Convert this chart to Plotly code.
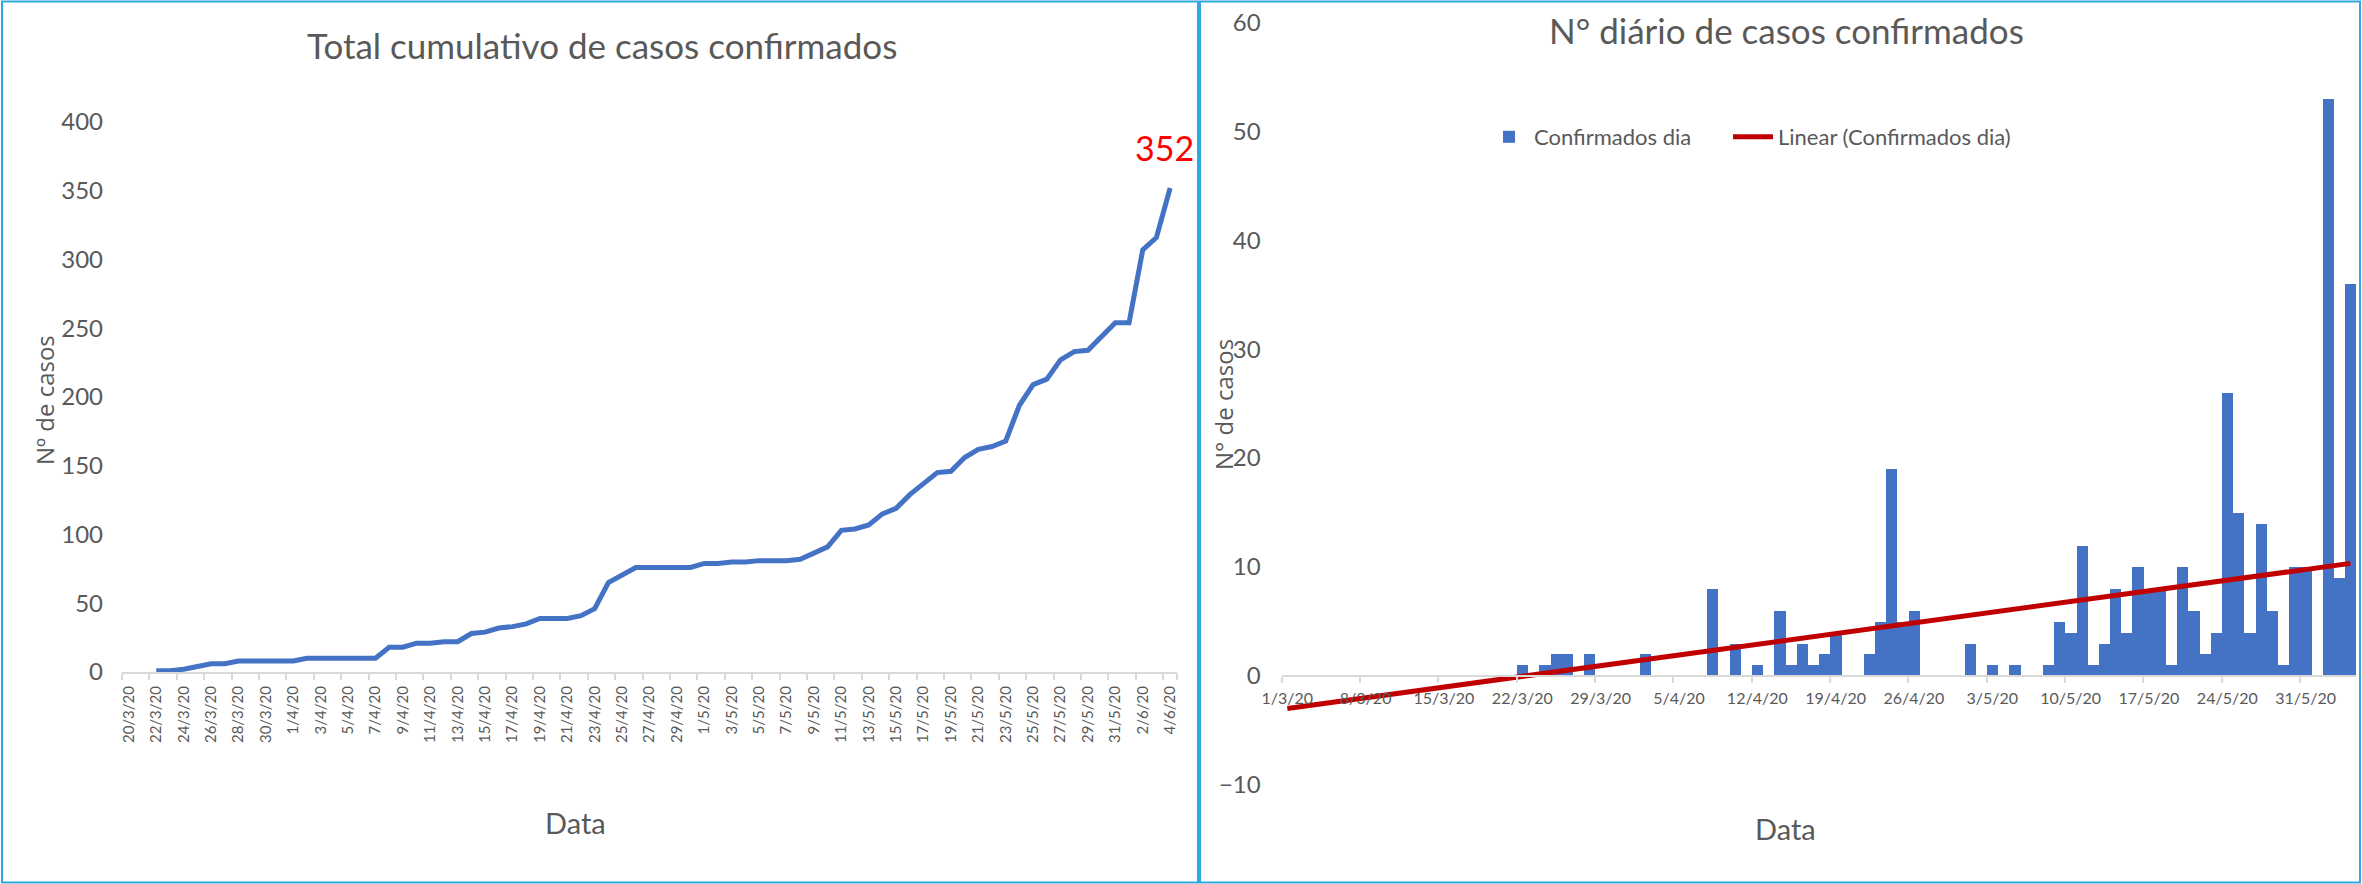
import numpy as np
import pandas as pd
import plotly.graph_objects as go

W, H = 2362, 884

# ---------------- data ----------------
# Left chart: cumulative confirmed cases, categories 20/3/20 .. 4/6/20
cum_dates = pd.date_range("2020-03-20", "2020-06-04", freq="D")
cum_labels = [f"{d.day}/{d.month}/20" for d in cum_dates]
cumulative = [None, None, 1, 1, 2, 4, 6, 6, 8, 8, 8, 8, 8, 10, 10, 10, 10, 10, 10,
              18, 18, 21, 21, 22, 22, 28, 29, 32, 33, 35, 39, 39, 39, 41, 46, 65, 70,
              76, 76, 76, 76, 76, 79, 79, 80, 80, 81, 81, 81, 82, 87, 91, 103, 104,
              107, 115, 119, 129, 137, 145, 146, 156, 162, 164, 168, 194, 209, 213,
              227, 233, 234, 244, 254, 254, 307, 316, 352]
last_label = "352"

# Right chart: daily confirmed cases, 1/3/20 .. 4/6/20
daily_dates = pd.date_range("2020-03-01", "2020-06-04", freq="D")
daily = [0, 0, 0, 0, 0, 0, 0, 0, 0, 0, 0, 0, 0, 0, 0, 0, 0, 0, 0, 0, 0,
         1, 0, 1, 2, 2, 0, 2, 0, 0, 0, 0, 2, 0, 0, 0, 0, 0, 8, 0, 3, 0, 1, 0, 6,
         1, 3, 1, 2, 4, 0, 0, 2, 5, 19, 5, 6, 0, 0, 0, 0, 3, 0, 1, 0, 1, 0, 0,
         1, 5, 4, 12, 1, 3, 8, 4, 10, 8, 8, 1, 10, 6, 2, 4, 26, 15, 4, 14, 6, 1,
         10, 10, 0, 53, 9, 36]
daily_tick_labels = ["1/3/20", "8/3/20", "15/3/20", "22/3/20", "29/3/20", "5/4/20",
                     "12/4/20", "19/4/20", "26/4/20", "3/5/20", "10/5/20", "17/5/20",
                     "24/5/20", "31/5/20"]
left_yticks = [0, 50, 100, 150, 200, 250, 300, 350, 400]
right_yticks = [-10, 0, 10, 20, 30, 40, 50, 60]

# ---------------- derived positions ----------------
xl = np.arange(len(cum_labels))
xr = np.arange(len(daily))
slope, intercept = np.polyfit(xr, np.array(daily, dtype=float), 1)
trend = slope * xr + intercept

GRAY = "#595959"
AXIS = "#D9D9D9"
BLUE = "#4472C4"
RED = "#C00000"
BORDER = "#2FA8DF"
CAL = "Lato"

fig = go.Figure()

fig.add_trace(go.Scatter(
    x=xl, y=cumulative, mode="lines", connectgaps=False,
    line=dict(color=BLUE, width=5), showlegend=False,
    xaxis="x", yaxis="y", hoverinfo="skip"))

fig.add_trace(go.Bar(
    x=xr, y=daily, name="Confirmados dia",
    marker=dict(color=BLUE, line=dict(width=0)),
    xaxis="x2", yaxis="y2", legend="legend"))

fig.add_trace(go.Scatter(
    x=xr, y=trend, mode="lines", name="Linear (Confirmados dia)",
    line=dict(color=RED, width=5), xaxis="x2", yaxis="y2", legend="legend2"))


def py(px):
    return (H - px) / H


legend_common = dict(orientation="h", xanchor="left", yanchor="middle",
                     font=dict(family=CAL, size=22, color=GRAY),
                     bgcolor="rgba(0,0,0,0)", itemwidth=40)

fig.update_layout(
    width=W, height=H,
    margin=dict(l=0, r=0, t=0, b=0, pad=0),
    paper_bgcolor="white", plot_bgcolor="white",
    bargap=0,
    font=dict(family=CAL, color=GRAY),
    xaxis=dict(
        domain=[122 / W, 1177 / W], range=[-0.5, len(cum_labels) - 0.5],
        tickmode="array", tickvals=xl[::2], ticktext=cum_labels[::2],
        tickangle=-90, ticks="", showgrid=False, zeroline=False,
        showline=True, linecolor=AXIS, linewidth=2, automargin=False,
        tickfont=dict(family=CAL, size=15, color=GRAY),
        ticklabelstandoff=6,
        minor=dict(tickmode="array", tickvals=list(xl[::2] - 0.5) + [len(cum_labels) - 0.5],
                   ticks="outside", ticklen=6, tickcolor=AXIS, tickwidth=2),
        anchor="y"),
    yaxis=dict(
        domain=[py(672), py(122)], range=[0, 400],
        tickmode="array", tickvals=left_yticks, automargin=False,
        showgrid=False, zeroline=False, showline=False, ticks="",
        tickfont=dict(family=CAL, size=24, color=GRAY),
        ticklabelstandoff=18, anchor="x"),
    xaxis2=dict(
        domain=[1281.7 / W, 2356 / W], range=[-0.5, len(daily) - 0.5],
        anchor="free", position=py(675.7), automargin=False,
        tickmode="array", tickvals=xr[::7], ticktext=daily_tick_labels,
        ticks="", showgrid=False, zeroline=False,
        showline=True, linecolor=AXIS, linewidth=2,
        tickfont=dict(family=CAL, size=16, color=GRAY),
        ticklabelstandoff=8,
        minor=dict(tickmode="array", tickvals=list(xr[::7] - 0.5),
                   ticks="outside", ticklen=6, tickcolor=AXIS, tickwidth=2)),
    yaxis2=dict(
        domain=[py(784.7), py(22.6)], range=[-10, 60],
        tickmode="array", tickvals=right_yticks, automargin=False,
        showgrid=False, zeroline=False, showline=False, ticks="",
        tickfont=dict(family=CAL, size=24, color=GRAY),
        ticklabelstandoff=20, anchor="x2"),
    legend=dict(x=1484 / W, y=py(137), **legend_common),
    legend2=dict(x=1728 / W, y=py(137), **legend_common),
    showlegend=True,
)

annotations = [
    dict(text="Total cumulativo de casos confirmados", x=602 / W, y=py(45),
         xref="paper", yref="paper", xanchor="center", yanchor="middle",
         showarrow=False, font=dict(family=CAL, size=35, color=GRAY)),
    dict(text="N° diário de casos confirmados", x=1786 / W, y=py(30),
         xref="paper", yref="paper", xanchor="center", yanchor="middle",
         showarrow=False, font=dict(family=CAL, size=35, color=GRAY)),
    dict(text="Nº de casos", x=45 / W, y=py(400), xref="paper", yref="paper",
         xanchor="center", yanchor="middle",
         showarrow=False, textangle=-90,
         font=dict(family="Open Sans", size=24, color=GRAY)),
    dict(text="N° de casos", x=1223 / W, y=py(405), xref="paper", yref="paper",
         xanchor="center", yanchor="middle",
         showarrow=False, textangle=-90,
         font=dict(family="Open Sans", size=24, color=GRAY)),
    dict(text="Data", x=575 / W, y=py(822), xref="paper", yref="paper",
         xanchor="center", yanchor="middle",
         showarrow=False, font=dict(family=CAL, size=29, color=GRAY)),
    dict(text="Data", x=1785 / W, y=py(828), xref="paper", yref="paper",
         xanchor="center", yanchor="middle",
         showarrow=False, font=dict(family=CAL, size=29, color=GRAY)),
    dict(text=last_label, x=xl[-1], y=cumulative[-1], xref="x", yref="y",
         xanchor="center", yanchor="middle",
         showarrow=False, yshift=40, xshift=-6,
         font=dict(family=CAL, size=34, color="#FF0000")),
]
fig.update_layout(annotations=annotations)

fig.update_layout(shapes=[
    dict(type="rect", xref="paper", yref="paper", x0=2 / W, x1=1198 / W,
         y0=py(882.5), y1=py(1.5), line=dict(color=BORDER, width=2)),
    dict(type="rect", xref="paper", yref="paper", x0=1200 / W, x1=2360 / W,
         y0=py(882.5), y1=py(1.5), line=dict(color=BORDER, width=2)),
])

fig.write_html(
    "out.html",
    config={"displayModeBar": False},
    post_script="document.body.style.margin='0';document.body.style.overflow='hidden';",
)
